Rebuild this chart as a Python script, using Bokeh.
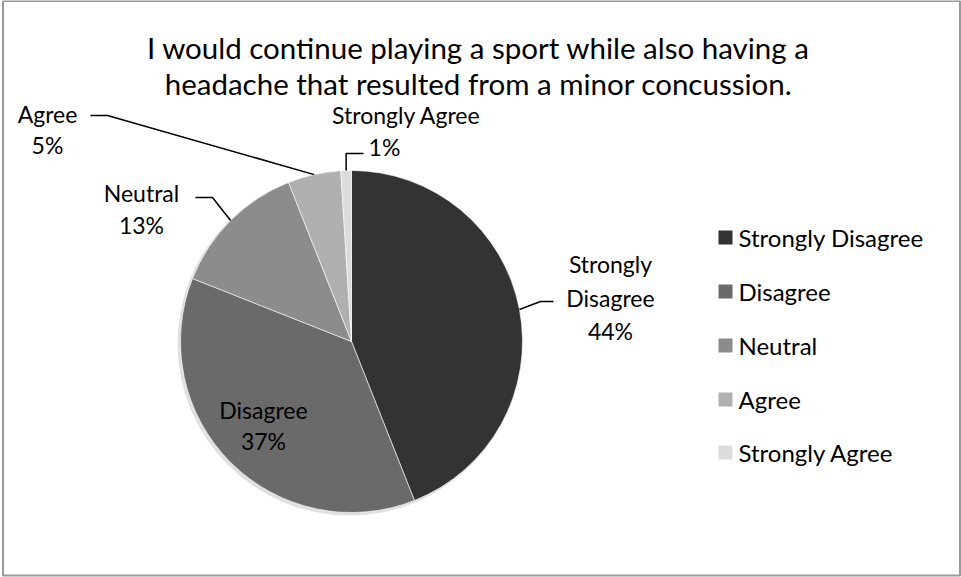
import math
from bokeh.plotting import figure
from bokeh.models import Range1d, ColumnDataSource
from bokeh.core.properties import value
from bokeh.embed import file_html
from bokeh.resources import INLINE

# ---- data ----
categories = ["Strongly Disagree", "Disagree", "Neutral", "Agree", "Strongly Agree"]
percents = [44, 37, 13, 5, 1]
colors = ["#333333", "#6a6a6a", "#8c8c8c", "#b0b0b0", "#dcdcdc"]
title_lines = ["I would continue playing a sport while also having a",
               "headache that resulted from a minor concussion."]

W, H = 961, 577
FONT = "Lato"

def Y(py):
    return H - py

p = figure(width=W, height=H, output_backend="svg", toolbar_location=None,
           x_range=Range1d(0, W), y_range=Range1d(0, H), min_border=0)
p.axis.visible = False
p.grid.visible = False
p.outline_line_color = None
p.background_fill_color = "white"
p.border_fill_color = "white"

# frame
p.quad(left=[2.5], right=[959.5], top=[Y(0.5)], bottom=[Y(575)], fill_color=None,
       line_color="#9a9a9a", line_width=2)

# pie
cx, cy, r = 351, 341, 171
total = sum(percents)
starts, ends, mids = [], [], []
cum = 0.0
for v in percents:
    a0 = math.pi / 2 - 2 * math.pi * cum / total
    cum += v
    a1 = math.pi / 2 - 2 * math.pi * cum / total
    starts.append(a0)
    ends.append(a1)
    mids.append((a0 + a1) / 2)

# subtle shadow
p.wedge(x=[cx - 2], y=[Y(cy) - 2], radius=r + 1, start_angle=[0], end_angle=[2 * math.pi],
        fill_color="#000000", fill_alpha=0.12, line_color=None)

src = ColumnDataSource(dict(start=starts, end=ends, color=colors, cat=categories))
p.wedge(x=cx, y=Y(cy), radius=r, start_angle="start", end_angle="end",
        direction="clock", fill_color="color", line_color="white", line_width=0.6,
        source=src)

def anchor(i):
    a = mids[i]
    return cx + r * math.cos(a), cy - r * math.sin(a)

def txt(x, y, s, size=23, align="center"):
    p.text(x=[x], y=[Y(y)], text=[s], text_font=value(FONT), text_font_size=f"{size}px",
           text_align=align, text_baseline="middle", text_color="#000000")

# title
txt(478, 47, title_lines[0], 29.5)
txt(478, 83, title_lines[1], 29.5)

# Strongly Disagree label
ax, ay = anchor(0)
p.line(x=[ax, 540, 553], y=[Y(ay), Y(301), Y(301)], line_color="black", line_width=1.5)
txt(610, 263, "Strongly")
txt(610, 297, "Disagree")
txt(610, 330, f"{percents[0]}%")

# Disagree (inside)
txt(263, 409, categories[1])
txt(263, 440, f"{percents[1]}%")

# Neutral
ax, ay = anchor(2)
p.line(x=[ax, 212, 195], y=[Y(ay), Y(197), Y(197)], line_color="black", line_width=1.5)
txt(141, 192, categories[2])
txt(141, 224, f"{percents[2]}%")

# Agree
ax, ay = anchor(3)
p.line(x=[ax, 107, 90], y=[Y(ay), Y(115), Y(115)], line_color="black", line_width=1.5)
txt(47, 113, categories[3])
txt(47, 144, f"{percents[3]}%")

# Strongly Agree
ax, ay = anchor(4)
p.line(x=[ax, ax, 363], y=[Y(ay), Y(153), Y(153)], line_color="black", line_width=1.5)
txt(406, 114, categories[4])
txt(384, 146, f"{percents[4]}%")

# legend
ly = [237, 291, 345, 399, 452]
p.rect(x=[725] * 5, y=[Y(v) for v in ly], width=14, height=14,
       fill_color=colors, line_color=None)
for yy, c in zip(ly, categories):
    txt(738, yy, c, 24, "left")

open("out.html", "w").write(file_html(p, INLINE))
